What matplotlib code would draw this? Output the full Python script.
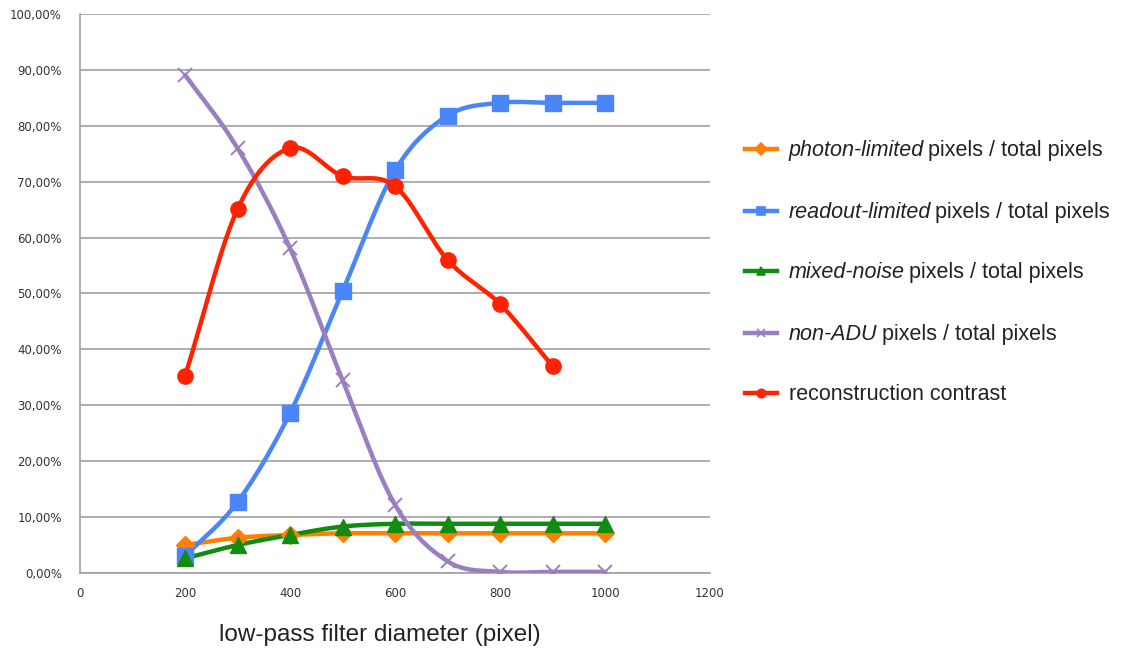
import numpy as np
import matplotlib
matplotlib.use("Agg")
import matplotlib.pyplot as plt
from matplotlib.lines import Line2D

# data
diam = [200, 300, 400, 500, 600, 700, 800, 900, 1000]
photon = [5.0, 6.3, 6.8, 7.1, 7.1, 7.1, 7.1, 7.1, 7.1]
readout = [3.0, 12.7, 28.6, 50.4, 72.0, 81.8, 84.1, 84.1, 84.1]
mixed = [2.6, 5.0, 6.8, 8.3, 8.8, 8.8, 8.8, 8.8, 8.8]
non_adu = [89.1, 76.0, 58.1, 34.5, 12.2, 2.1, 0.2, 0.2, 0.2]
contrast_diam = [200, 300, 400, 500, 600, 700, 800, 900]
contrast = [35.2, 65.1, 76.0, 71.0, 69.2, 56.0, 48.1, 37.0]

yticks = list(range(0, 101, 10))
xticks = list(range(0, 1201, 200))


def smooth(x, y, n=30):
    # catmull-rom through the points, like the spreadsheet "smoothed line"
    x = np.asarray(x, float)
    y = np.asarray(y, float)
    px = np.concatenate([[2 * x[0] - x[1]], x, [2 * x[-1] - x[-2]]])
    py = np.concatenate([[2 * y[0] - y[1]], y, [2 * y[-1] - y[-2]]])
    xs, ys = [], []
    t = np.linspace(0, 1, n)
    for i in range(1, len(px) - 2):
        for p, out in ((px, xs), (py, ys)):
            p0, p1, p2, p3 = p[i - 1], p[i], p[i + 1], p[i + 2]
            out.append(0.5 * (2 * p1 + (-p0 + p2) * t
                              + (2 * p0 - 5 * p1 + 4 * p2 - p3) * t ** 2
                              + (-p0 + 3 * p1 - 3 * p2 + p3) * t ** 3))
    return np.concatenate(xs), np.concatenate(ys)


series = [
    (diam, photon, "#ff7f00", "D", 9, "photon-limited"),
    (diam, readout, "#4a86f7", "s", 11, "readout-limited"),
    (diam, mixed, "#108c10", "^", 11, "mixed-noise"),
    (diam, non_adu, "#9a7fc0", "x", 10, "non-ADU"),
    (contrast_diam, contrast, "#ff2200", "o", 11, None),
]

fig = plt.figure(figsize=(11.21, 6.5), dpi=100)
ax = fig.add_axes([0.0714, 0.1185, 0.5620, 0.8600])

for xs, ys, col, mk, ms, lab in series:
    sx, sy = smooth(xs, ys)
    ax.plot(sx, sy, color=col, lw=3.2, solid_capstyle="round", zorder=3)
    if mk == "x":
        ax.plot(xs, ys, ls="none", marker=mk, ms=ms, mew=1.4, color=col, zorder=4)
    else:
        ax.plot(xs, ys, ls="none", marker=mk, ms=ms, color=col, mec=col, zorder=4)

ax.set_xlim(0, 1200)
ax.set_ylim(0, 100)
ax.set_xticks(xticks)
ax.set_yticks(yticks)
ax.set_yticklabels(["%d,00%%" % v for v in yticks])
ax.tick_params(length=0, labelsize=8.5, colors="#333333")
ax.tick_params(axis="y", pad=13)
ax.tick_params(axis="x", pad=10)
for lbl in ax.get_xticklabels() + ax.get_yticklabels():
    lbl.set_fontfamily("DejaVu Sans")
ax.grid(axis="y", color="#a0a0a0", lw=1.2)
ax.set_axisbelow(True)
for s in ["top", "right"]:
    ax.spines[s].set_visible(False)
for s in ["left", "bottom"]:
    ax.spines[s].set_color("#a0a0a0")
    ax.spines[s].set_linewidth(1.2)
fig.text(380 / 1121, 1 - 635 / 650, "low-pass filter diameter (pixel)", fontsize=17.5,
         fontfamily="Liberation Sans", color="#222222", ha="center", va="center")

# legend drawn by hand so part of each label can be italic
leg_y = [149, 211, 271, 333, 393]
fig.canvas.draw()
renderer = fig.canvas.get_renderer()
for (xs, ys, col, mk, ms, lab), yp in zip(series, leg_y):
    yf = 1 - yp / 650
    yb = 1 - (yp + 7) / 650
    fig.add_artist(Line2D([745 / 1121, 777 / 1121], [yf, yf], color=col, lw=3.2,
                          transform=fig.transFigure))
    fig.add_artist(Line2D([761 / 1121], [yf], color=col, marker=mk, ms=6, mew=1.2,
                          transform=fig.transFigure))
    x0 = 789 / 1121
    if lab is not None:
        t = fig.text(x0, yb, lab, style="italic", fontsize=15.5, va="baseline",
                     fontfamily="Liberation Sans", color="#222222")
        bb = t.get_window_extent(renderer)
        x0 = bb.x1 / fig.bbox.width + 4 / 1121
        rest = "pixels / total pixels"
    else:
        rest = "reconstruction contrast"
    fig.text(x0, yb, rest, fontsize=15.5, va="baseline",
             fontfamily="Liberation Sans", color="#222222")

fig.savefig("out.png", dpi=100)
